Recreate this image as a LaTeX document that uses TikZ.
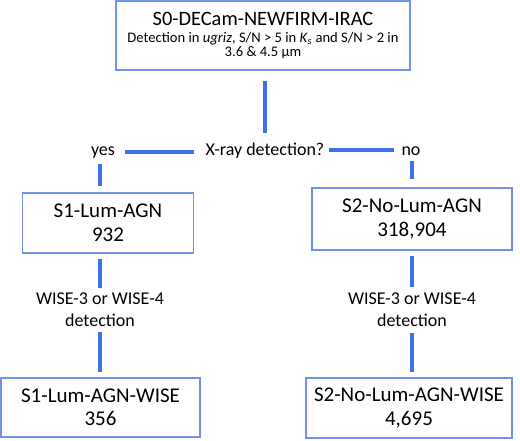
\documentclass[tikz,border=0pt]{standalone}
\usepackage{fontspec}
\setmainfont{Carlito}
\usetikzlibrary{positioning, calc}

\definecolor{boxblue}{RGB}{112,146,232}
\definecolor{lineblue}{RGB}{62,112,234}

\begin{document}
\begin{tikzpicture}[x=1pt, y=-1pt,
  sample/.style={draw=boxblue, line width=1.2pt, align=center, inner sep=0pt,
    font=\fontsize{21}{23.5}\selectfont},
  cut/.style={align=center, inner sep=0pt, font=\fontsize{18}{22}\selectfont},
  link/.style={draw=lineblue, line width=4pt}]
\useasboundingbox (0,0) rectangle (520,440);

% Parent sample
\node[sample, minimum width=294pt, minimum height=69pt, font=\fontsize{14.6}{14}\selectfont] (s0) at (263,35.5)
  {{\fontsize{20.4}{14}\selectfont S0-DECam-NEWFIRM-IRAC}\\[3pt]
   Detection in \textit{ugriz}, S/N > 5 in \textit{K}\textsubscript{\textit{s}} and S/N > 2 in\\
   3.6 \& 4.5 µm};

% X-ray split
\node[cut, anchor=base] (xray) at (265,155) {X-ray detection?};
\node[cut, anchor=base] (yes) at (103,155) {yes};
\node[cut, anchor=base] (no) at (411,155) {no};

% First level samples
\node[sample, minimum width=171pt, minimum height=60pt] (s1) at (108,223) {S1-Lum-AGN\\932};
\node[sample, minimum width=200pt, minimum height=62pt] (s2) at (412,219) {S2-No-Lum-AGN\\318,904};

% WISE cuts
\node[cut, anchor=north] (w1) at (100,293) {WISE-3 or WISE-4\\detection};
\node[cut, anchor=north] (w2) at (412,293) {WISE-3 or WISE-4\\detection};

% Second level samples
\node[sample, minimum width=199pt, minimum height=59pt] (s1w) at (100.5,407.5) {S1-Lum-AGN-WISE\\356};
\node[sample, minimum width=206pt, minimum height=60pt] (s2w) at (409,408) {S2-No-Lum-AGN-WISE\\4,695};

% Connectors
\draw[link, shorten <=10pt, shorten >=9pt] (s0.south -| xray) -- (xray.north);
\draw[link, shorten <=10pt, shorten >=12pt] (yes.east) -- (yes.east -| xray.west);
\draw[link, shorten <=5pt, shorten >=7pt] (xray.east) -- (xray.east -| no.west);
\draw[link, shorten <=6pt, shorten >=6pt] (yes.south -| w1) -- (s1.north -| w1);
\draw[link, shorten <=6pt, shorten >=8pt] (no.south -| w2) -- (s2.north -| w2);
\draw[link, shorten <=5pt, shorten >=5pt] (s1.south -| w1) -- (w1.north);
\draw[link, shorten <=5pt, shorten >=5pt] (w1.south) -- (s1w.north -| w1);
\draw[link, shorten <=5pt, shorten >=6pt] (s2.south -| w2) -- (w2.north);
\draw[link, shorten <=6pt, shorten >=5pt] (w2.south) -- (s2w.north -| w2);
\end{tikzpicture}
\end{document}
